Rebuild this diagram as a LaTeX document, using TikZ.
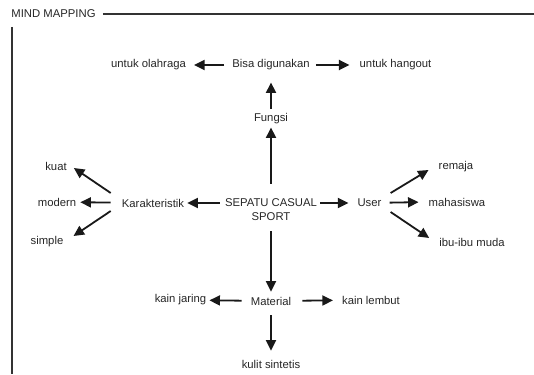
\documentclass[tikz,border=0pt]{standalone}
\usepackage{fontspec}
\setmainfont{Liberation Sans}
\usepackage{tikz}
\usetikzlibrary{arrows.meta}
\tikzset{
	word/.style={inner sep=2pt, text=black!85, font=\fontsize{11.3}{14}\selectfont},
	arr/.style={-{Triangle[length=10.5pt,width=10pt]}, line width=1.8pt, black!90},
	frameline/.style={black!80}
}

\begin{document}
\begin{tikzpicture}[x=1pt,y=-1pt]
		\useasboundingbox (0,0) rectangle (534,374);
		
		\node[word] at (53.5,14) (title) {MIND MAPPING};
		\coordinate (tr) at (534,14);
		\coordinate (tl) at (12,27);
		\coordinate (bl) at (12,374);
		
		\node[word] at (271,65) (bisa)     {Bisa digunakan};
		\node[word] at (148.5,65) (olahraga)     {untuk olahraga};
		\node[word] at (395.5,65) (hangout)     {untuk hangout};
		\node[word] at (271,119) (fungsi)     {Fungsi};
		\node[word, align=center] at (271,210) (sepatu)     {SEPATU CASUAL\\SPORT};
		\node[word] at (153,203) (karak)     {Karakteristik};
		\node[word] at (56,166) (kuat)     {kuat};
		\node[word] at (57,202) (modern)     {modern};
		\node[word] at (47,242) (simple)     {simple};
		\node[word] at (369.5,203) (user)     {User};
		\node[word] at (456,167) (remaja)     {remaja};
		\node[word] at (457,202) (mhs)     {mahasiswa};
		\node[word] at (472,242) (ibu)     {ibu-ibu muda};
		\node[word] at (271,301) (material)     {Material};
		\node[word] at (180.5,300) (jaring)     {kain jaring};
		\node[word] at (371,300) (lembut)     {kain lembut};
		\node[word] at (271,364) (kulit)     {kulit sintetis};
		
		%Frame
		\draw[frameline, line width=1.2pt] ([xshift=5pt]title.east) -- (tr);
		\draw[frameline, line width=2.4pt] (tl) -- (bl);
		
		%Lines
		\draw[arr, shorten <=6pt, shorten >=6pt] (bisa) -- (olahraga);
		\draw[arr, shorten <=4pt, shorten >=8pt] (bisa) -- (hangout);
		\draw[arr, shorten <=3pt, shorten >=10pt] (fungsi) -- (bisa);
		\draw[arr, shorten <=13pt, shorten >=1pt] (sepatu) -- (fungsi);
		\draw[arr, shorten <=3pt, shorten >=1pt] (sepatu.west |- karak.east) -- (karak.east);
		\draw[arr, shorten <=1pt, shorten >=7pt] (sepatu.east |- user.west) -- (user.west);
		\draw[arr, shorten <=8pt, shorten >=3pt] (sepatu) -- (material);
		
		\draw[arr] ([shift={(-9,-10)}]karak.west) -- ([shift={(5,2)}]kuat.east);
		\draw[arr, shorten <=9pt, shorten >=2pt] (karak) -- (modern);
		\draw[arr] ([shift={(-9,8)}]karak.west) -- ([shift={(8,-6)}]simple.east);
		
		\draw[arr] ([shift={(7,-10)}]user.east) -- ([shift={(-8,3)}]remaja.west);
		\draw[arr, shorten <=6pt, shorten >=8pt] (user) -- (mhs.west);
		\draw[arr] ([shift={(7,9)}]user.east) -- ([shift={(-8,-4)}]ibu.west);
		
		\draw[arr, shorten <=7pt, shorten >=1pt] (material) -- (jaring);
		\draw[arr, shorten <=9pt, shorten >=7pt] (material) -- (lembut);
		\draw[arr, shorten <=8pt, shorten >=7pt] (material) -- (kulit);
		
	\end{tikzpicture}
\end{document}
